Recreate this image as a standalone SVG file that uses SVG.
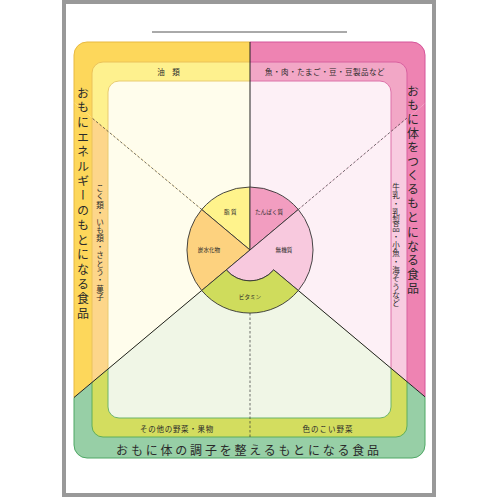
<svg xmlns="http://www.w3.org/2000/svg" width="500" height="500" viewBox="0 0 500 500">
<style>
text{font-family:"Noto Sans CJK JP","Noto Sans",sans-serif;fill:#2a2a2a}
.s{font-size:7.5px}
.b{font-size:12px}
.c{font-size:5.6px;text-anchor:middle}
.v{writing-mode:vertical-rl}
.sol{stroke:#222;stroke-width:1;fill:none}
.dash{stroke:#333;stroke-width:0.7;stroke-dasharray:2.5 2;fill:none}
.seg{stroke:#333;stroke-width:0.9}
</style>
<defs>
<rect id="ro" x="74" y="42" width="351" height="416" rx="13"/>
<rect id="rm" x="92" y="62" width="315" height="375" rx="11"/>
<rect id="ri" x="108" y="81" width="283" height="337" rx="11"/>
<clipPath id="cA1"><polygon points="250,250 250,-10 -10,-10 -10,32"/></clipPath>
<clipPath id="cA2"><polygon points="250,250 -10,32 -10,468"/></clipPath>
<clipPath id="cB1"><polygon points="250,250 250,-10 510,-10 510,32"/></clipPath>
<clipPath id="cB2"><polygon points="250,250 510,32 510,468"/></clipPath>
<clipPath id="cG"><polygon points="250,250 -10,468 -10,510 510,510 510,468"/></clipPath>
</defs>
<rect x="0" y="0" width="500" height="500" fill="#fff"/>
<rect x="64" y="2" width="370" height="493" fill="#fff" stroke="#999" stroke-width="4"/>
<line x1="152" y1="32" x2="347" y2="32" stroke="#555" stroke-width="1"/>

<g id="energy">
<g clip-path="url(#cA1)">
<use href="#ro" fill="#FDD75B" stroke="#E8B940"/>
<use href="#rm" fill="#FEF18E" stroke="#EAC25A"/>
<use href="#ri" fill="#FFFDEC" stroke="#E9CB70"/>
</g>
<g clip-path="url(#cA2)">
<use href="#ro" fill="#FDD75B" stroke="#E8B940"/>
<use href="#rm" fill="#FDD68A" stroke="#EAC25A"/>
<use href="#ri" fill="#FFFDEC" stroke="#E9CB70"/>
</g>
<text class="b v" x="83" y="87" style="letter-spacing:2.7px">おもにエネルギーのもとになる食品</text>
<text class="s" x="170" y="75" text-anchor="middle" style="letter-spacing:3px">油 類</text>
<text class="s" text-anchor="middle" x="100 100 100 100 100 100 100 100 100 100 100 100 100 100" y="190.9 199.3 207.7 216.1 224.5 232.9 241.3 249.7 258.1 266.5 274.9 283.3 291.7 300.1">こく類・いも類・さとう・菓子</text>
</g>

<g id="body">
<g clip-path="url(#cB1)">
<use href="#ro" fill="#EE83B2" stroke="#D4559A"/>
<use href="#rm" fill="#F2A7C6" stroke="#D8609F"/>
<use href="#ri" fill="#FDF0F6" stroke="#DC70A8"/>
</g>
<g clip-path="url(#cB2)">
<use href="#ro" fill="#EE83B2" stroke="#D4559A"/>
<use href="#rm" fill="#F8CBE0" stroke="#D8609F"/>
<use href="#ri" fill="#FDF0F6" stroke="#DC70A8"/>
</g>
<text class="b v" x="413" y="85" style="letter-spacing:2.1px">おもに体をつくるもとになる食品</text>
<text class="s" x="325" y="75" text-anchor="middle" style="letter-spacing:0.5px">魚・肉・たまご・豆・豆製品など</text>
<text class="s" text-anchor="middle" x="396 396 396 396 396 396 396 396 396 396 396 396 396 396 396" y="189.9 198.2 206.5 214.8 223.1 231.4 239.7 248 256.3 264.6 272.9 281.2 289.5 297.8 306.1">牛乳・乳製品・小魚・海そうなど</text>
</g>

<g id="condition">
<g clip-path="url(#cG)">
<use href="#ro" fill="#97CFA6" stroke="#4FA765"/>
<use href="#rm" fill="#D3DD5F" stroke="#5FAE5A"/>
<use href="#ri" fill="#F0F6E6" stroke="#6DB46A"/>
</g>
<text class="b" x="249" y="454.5" text-anchor="middle" style="letter-spacing:2.8px">おもに体の調子を整えるもとになる食品</text>
<text class="s" x="177" y="431.8" text-anchor="middle" style="letter-spacing:0.7px">その他の野菜・果物</text>
<text class="s" x="328" y="431.8" text-anchor="middle" style="letter-spacing:1px">色のこい野菜</text>
</g>

<g id="connectors">
<line class="sol" x1="250" y1="42" x2="250" y2="187"/>
<line class="sol" x1="201.7" y1="290.5" x2="74" y2="397.5"/>
<line class="sol" x1="298.3" y1="290.5" x2="425" y2="396.8"/>
<line class="dash" x1="201.7" y1="209.5" x2="92" y2="118"/>
<line class="dash" x1="298.3" y1="209.5" x2="407" y2="118"/>
<line class="dash" x1="250" y1="313" x2="250" y2="437"/>
</g>

<g id="nutrients">
<g id="lipid">
<path class="seg" fill="#FFF38C" d="M250,250 L250,187 A63,63 0 0 0 201.7,209.5 Z"/>
<text class="c" x="231" y="214" style="letter-spacing:1.5px">脂質</text>
</g>
<g id="carbohydrate">
<path class="seg" fill="#FDD27F" d="M250,250 L201.7,209.5 A63,63 0 0 0 201.7,290.5 Z"/>
<text class="c" x="209" y="252">炭水化物</text>
</g>
<g id="protein">
<path class="seg" fill="#F29DC0" d="M250,250 L250,187 A63,63 0 0 1 298.3,209.5 Z"/>
<text class="c" x="269" y="214">たんぱく質</text>
</g>
<g id="mineral">
<path class="seg" fill="#F8C9DE" d="M250,250 L298.3,209.5 A63,63 0 0 1 298.3,290.5 L273.7,269.9 A31,31 0 0 1 226.3,269.9 Z"/>
<text class="c" x="284" y="252">無機質</text>
</g>
<g id="vitamin">
<path class="seg" fill="#CFDC5C" d="M201.7,290.5 L226.3,269.9 A31,31 0 0 0 273.7,269.9 L298.3,290.5 A63,63 0 0 1 201.7,290.5 Z"/>
<text class="c" x="250" y="299">ビタミン</text>
</g>
</g>
</svg>
